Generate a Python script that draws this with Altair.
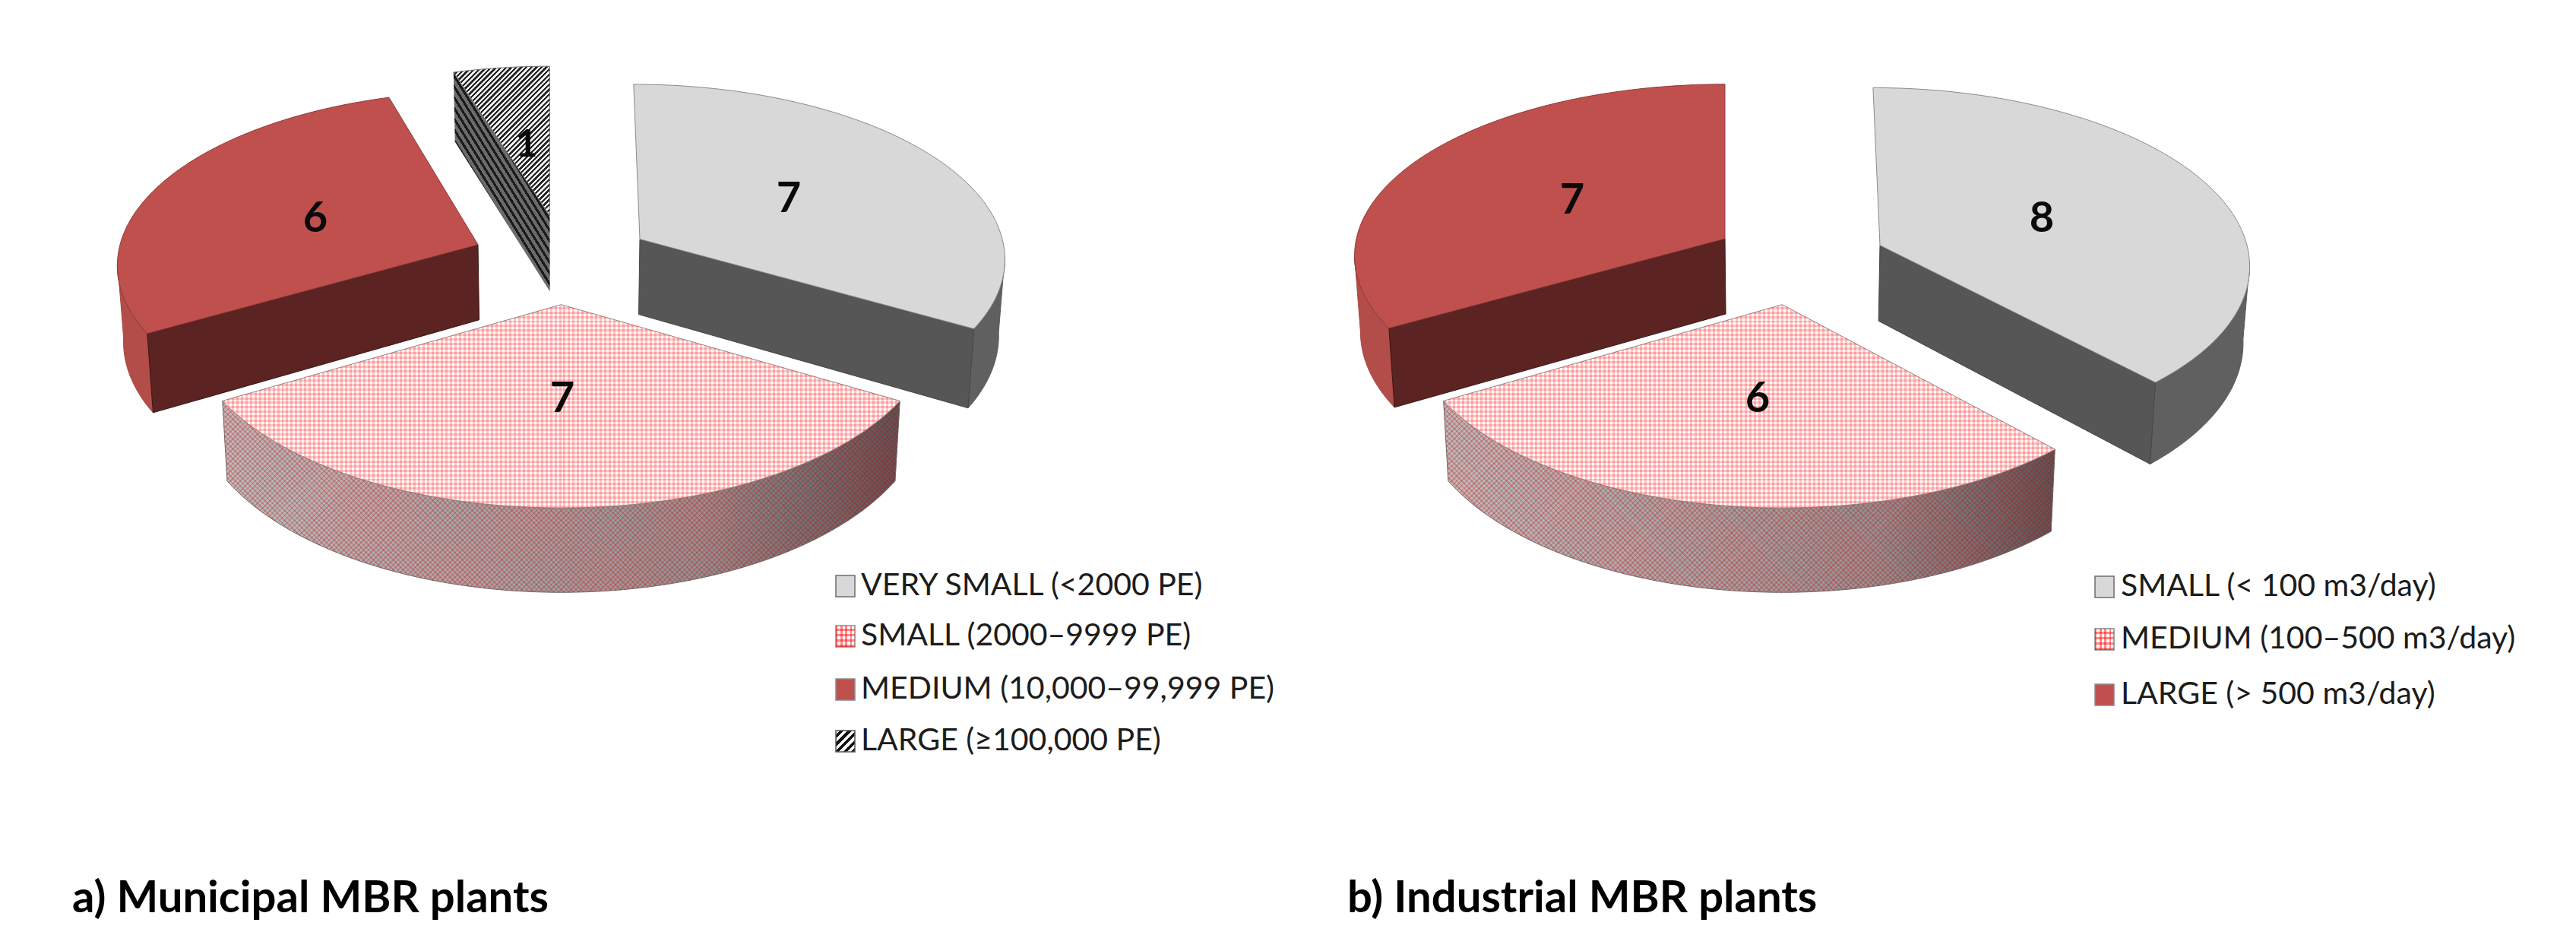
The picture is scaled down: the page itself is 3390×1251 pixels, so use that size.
import math
import altair as alt

# ---- chart values -------------------------------------------------------
MUNICIPAL_VALUES = [7, 7, 6, 1]
MUNICIPAL_LEGEND = ["VERY SMALL (<2000 PE)", "SMALL (2000–9999 PE)",
                    "MEDIUM (10,000–99,999 PE)", "LARGE (≥100,000 PE)"]
MUNICIPAL_STYLES = ["grey", "pink", "red", "hatch"]
INDUSTRIAL_VALUES = [8, 6, 7]
INDUSTRIAL_LEGEND = ["SMALL (< 100 m3/day)", "MEDIUM (100–500 m3/day)", "LARGE (> 500 m3/day)"]
INDUSTRIAL_STYLES = ["grey", "pink", "red"]
TITLES = ["a) Municipal MBR plants", "b) Industrial MBR plants"]

# ---- layout only (pixels of the picture) --------------------------------
K = 0.10            # perspective strength
CONV = 0.014        # convergence of the lower rim
EXT = math.degrees(math.acos(-K))  # where the rim is at its widest
MUNI_CX, INDU_CX = 738, 2345
# apex x, apex y, rx, ry, depth, lean
MUNI_GEOM = [(842, 314.6, 477, 224, 99, -9), (738.5, 400.7, 489, 240.7, 100, 0),
             (629, 321.8, 471, 222, 99, 11), (723.5, 283.5, 471, 216, 100, 0)]
INDU_GEOM = [(2474, 322.7, 483, 228, 99.5, -10), (2345.4, 400.7, 489, 240.7, 100, 0),
             (2270, 314, 485, 223.5, 99, 0)]
MUNI_LABEL_POS = [(1038, 262), (740, 525), (415, 288), (693, 191)]
INDU_LABEL_POS = [(2687, 288), (2313, 525), (2069, 264)]
MUNI_LEGEND_X, MUNI_LEGEND_Y = (1100, 1133), [771, 837, 907, 975]
INDU_LEGEND_X, INDU_LEGEND_Y = (2757, 2791), [772, 841, 914]
TITLE_POS = [(95, 1183), (1773, 1183)]
FONT = "Lato"
W, H = 3374, 1234


def stripes(poly, direction, period, duty, on, off, phase=0.0):
    xs = [p[0] for p in poly]
    ys = [p[1] for p in poly]
    x0, y0 = min(xs), min(ys)
    w, h = max(max(xs) - x0, 1e-6), max(max(ys) - y0, 1e-6)
    dx, dy = direction
    nu, nv = dy / h, -dx / w
    corners = [(0, 0), (1, 0), (0, 1), (1, 1)]
    ps = [u * nu + v * nv for u, v in corners]
    pmin, pmax = min(ps), max(ps)
    o = corners[ps.index(pmin)]
    n2 = nu * nu + nv * nv
    g = ((pmax - pmin) * nu / n2, (pmax - pmin) * nv / n2)
    ln = math.hypot(dx, dy)
    q = [(u * w * dy - v * h * dx) / ln for u, v in corners]
    n = max(1, int(round((max(q) - min(q)) / period)))
    stops = []
    for i in range(n):
        a, b, c = i / n, (i + duty) / n, (i + 1) / n
        for off_, col in ((a, on), (b, on), (b, off), (c, off)):
            stops.append({"offset": round(off_, 5), "color": col})
    return {"gradient": "linear", "x1": o[0], "y1": o[1], "x2": o[0] + g[0], "y2": o[1] + g[1], "stops": stops}


def hgrad(cols):
    n = len(cols) - 1
    return {"gradient": "linear", "x1": 0, "y1": 0, "x2": 1, "y2": 0,
            "stops": [{"offset": i / n, "color": c} for i, c in enumerate(cols)]}


def geo(poly, **kw):
    ring = [[round(x, 2), round(y, 2)] for x, y in poly]
    ring.append(ring[0])
    feat = {"type": "Feature", "properties": {}, "geometry": {"type": "Polygon", "coordinates": [ring]}}
    return alt.Chart(alt.InlineData(values=[feat])).mark_geoshape(**kw).project(
        type="identity", scale=1, translate=[-8, -8])


def text(rows, **kw):
    return alt.Chart(alt.InlineData(values=rows)).mark_text(font=FONT, **kw).encode(
        longitude="lon:Q", latitude="lat:Q", text="t:N").project(
        type="identity", scale=1, translate=[-8, -8])


def pt(g, deg, depth=False, cx=0):
    ax, ay, rx, ry, d, lean = g
    t = math.radians(deg)
    s = 1 / (1 + K * math.cos(t))
    x = ax + rx * math.sin(t) * s + lean * math.cos(t) * s
    y = ay - ry * math.cos(t) * s
    if depth:
        y += d * s
        x += (cx - x) * CONV
    return x, y


def arc(g, a, b, depth=False, cx=0):
    n = max(2, int(abs(b - a)))
    return [pt(g, a + (b - a) * i / n, depth, cx) for i in range(n + 1)]


def apex_low(g, cx):
    return (g[0] + (cx - g[0]) * CONV, g[1] + g[4])


PINK_ON = "rgba(255,30,30,0.25)"
PINK_OFF = "rgba(255,30,30,0)"
WALL_ON = "rgba(205,0,10,0.24)"
WALL_OFF = "rgba(205,0,10,0)"
HATCH_SIDE = (120, 194)


def wall_layers(poly, style):
    if style == "grey":
        return [geo(poly, fill="#606060", stroke="#5a5a5a", strokeWidth=1)]
    if style == "red":
        return [geo(poly, fill="#b34d4a", stroke="#a84643", strokeWidth=1)]
    if style == "hatch":
        return [geo(poly, fill=stripes(poly, HATCH_SIDE, 7.4, 0.42, "#1a1a1a", "#6b6b6b"))]
    return [
        geo(poly, fill=hgrad(["#bcbcbc", "#b4b4b4", "#acacac", "#a4a4a4", "#9c9c9c", "#929292", "#747474", "#565656"]),
            stroke="#6e6e6e", strokeWidth=1),
        geo(poly, fill=stripes(poly, (1, 1), 4.6, 0.38, WALL_ON, WALL_OFF)),
        geo(poly, fill=stripes(poly, (1, -1), 4.6, 0.38, WALL_ON, WALL_OFF)),
    ]


def radial_layers(poly, style):
    if style == "grey":
        return [geo(poly, fill="#565656", stroke="#454545", strokeWidth=1)]
    if style == "red":
        return [geo(poly, fill="#5b2321", stroke="#3a1615", strokeWidth=1)]
    if style == "hatch":
        return [geo(poly, fill=stripes(poly, HATCH_SIDE, 7.4, 0.42, "#1a1a1a", "#6b6b6b"))]
    return []


def top_layers(poly, style, period=6.0):
    if style == "grey":
        return [geo(poly, fill="#d8d8d8", stroke="#8a8a8a", strokeWidth=1)]
    if style == "red":
        return [geo(poly, fill="#c0504d", stroke="#8c3a38", strokeWidth=1)]
    if style == "hatch":
        return [geo(poly, fill=stripes(poly, (1, -1), 4.7, 0.5, "#262626", "#f4f4f4"), stroke="#777777", strokeWidth=1)]
    return [
        geo(poly, fill="#ffffff", stroke="#8a8a8a", strokeWidth=1),
        geo(poly, fill=stripes(poly, (1, 0), period, 0.5, PINK_ON, PINK_OFF)),
        geo(poly, fill=stripes(poly, (0, 1), period, 0.5, PINK_ON, PINK_OFF)),
    ]


def pie(values, styles, geoms, label_pos, cx):
    total = sum(values)
    spans, c = [], 0
    for v in values:
        spans.append((c * 360 / total, (c + v) * 360 / total))
        c += v
    order = sorted(range(len(values)), key=lambda i: geoms[i][1] + (0 if styles[i] != "pink" else 1000))
    out = []
    for i in order:
        a, b = spans[i]
        g, st = geoms[i], styles[i]
        va, vb = max(a, EXT), min(b, 360 - EXT)
        if vb > va:
            out += wall_layers(arc(g, va, vb) + arc(g, vb, va, True, cx), st)
        if math.sin(math.radians(a)) < -0.01:
            out += radial_layers([g[:2], pt(g, a), pt(g, a, True, cx), apex_low(g, cx)], st)
        if math.sin(math.radians(b)) > 0.01:
            out += radial_layers([g[:2], pt(g, b), pt(g, b, True, cx), apex_low(g, cx)], st)
        out += top_layers([g[:2]] + arc(g, a, b), st)
    rows = [{"lon": p[0], "lat": p[1], "t": str(v)} for v, p in zip(values, label_pos)]
    big = [r for r, v in zip(rows, values) if v > 1]
    small = [r for r, v in zip(rows, values) if v == 1]
    out.append(text(big, fontSize=56, fontWeight="bold", align="center", baseline="middle", color="#0a0a0a"))
    if small:
        out.append(text(small, fontSize=50, fontWeight="bold", align="center", baseline="middle", color="#0a0a0a"))
    return out


def legend(labels, styles, xs, ys):
    out = []
    for lab, st, y in zip(labels, styles, ys):
        box = [(xs[0], y - 14), (xs[0] + 25, y - 14), (xs[0] + 25, y + 14), (xs[0], y + 14)]
        if st == "grey":
            out.append(geo(box, fill="#d8d8d8", stroke="#6e6e6e", strokeWidth=1.5))
        elif st == "red":
            out.append(geo(box, fill="#c0504d", stroke="#8a8a8a", strokeWidth=1.5))
        elif st == "hatch":
            out.append(geo(box, fill=stripes(box, (1, -1), 7, 0.5, "#111111", "#f8f8f8"), stroke="#555555", strokeWidth=1.5))
        else:
            out.append(geo(box, fill="#ffffff", stroke="#8a8a8a", strokeWidth=1.5))
            out.append(geo(box, fill=stripes(box, (1, 0), 7, 0.4, "rgba(255,0,0,0.45)", "rgba(255,0,0,0)")))
            out.append(geo(box, fill=stripes(box, (0, 1), 7, 0.4, "rgba(255,0,0,0.45)", "rgba(255,0,0,0)")))
    rows = [{"lon": xs[1], "lat": y, "t": lab} for lab, y in zip(labels, ys)]
    out.append(text(rows, fontSize=41, align="left", baseline="middle", color="#1c1c1c"))
    return out


layers = []
layers += pie(MUNICIPAL_VALUES, MUNICIPAL_STYLES, MUNI_GEOM, MUNI_LABEL_POS, MUNI_CX)
layers += pie(INDUSTRIAL_VALUES, INDUSTRIAL_STYLES, INDU_GEOM, INDU_LABEL_POS, INDU_CX)
layers += legend(MUNICIPAL_LEGEND, MUNICIPAL_STYLES, MUNI_LEGEND_X, MUNI_LEGEND_Y)
layers += legend(INDUSTRIAL_LEGEND, INDUSTRIAL_STYLES, INDU_LEGEND_X, INDU_LEGEND_Y)
layers.append(text([{"lon": p[0], "lat": p[1], "t": t} for t, p in zip(TITLES, TITLE_POS)],
                   fontSize=58, fontWeight="bold", align="left", baseline="middle", color="#000000"))

chart = alt.layer(*layers).properties(
    width=W, height=H, padding=0, background="white",
    autosize=alt.AutoSizeParams(type="none"),
).configure_view(stroke=None)

chart.save("out.html", embed_options={"renderer": "svg", "actions": False})
